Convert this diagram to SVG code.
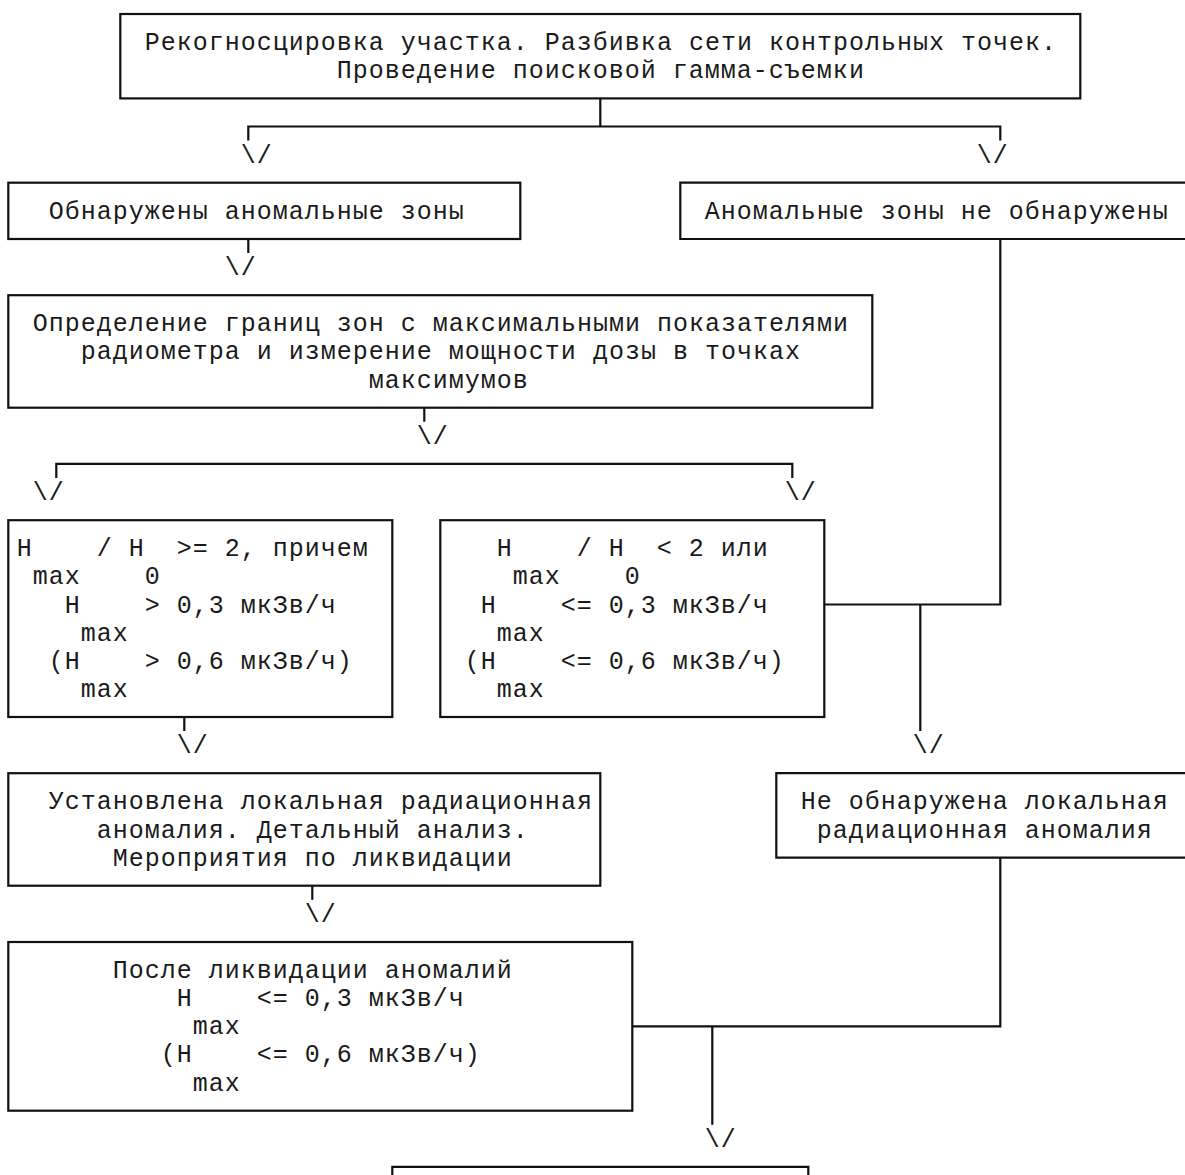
<svg xmlns="http://www.w3.org/2000/svg" width="1185" height="1175" viewBox="0 0 1185 1175">
<style>
  .bg{fill:#fff}
  .box{fill:none;stroke:#111;stroke-width:2.2}
  .ln{fill:none;stroke:#111;stroke-width:2.2}
  text{font-family:"Liberation Mono","DejaVu Sans Mono",monospace;font-size:25px;letter-spacing:1px;fill:#1a1a1a}
</style>
<rect class="bg" x="0" y="0" width="1185" height="1175"/>

<g id="connectors">
  <path class="ln" d="M600.3 98.4V126.5M248.3 140.5V126.5H1000.3V140.5"/>
  <path class="ln" d="M248.3 239V253"/>
  <path class="ln" d="M1000.3 239V604.5H824.3M920.3 604.5V731"/>
  <path class="ln" d="M424.3 407.7V421.7M56.3 478V463.9H792.3V478"/>
  <path class="ln" d="M184.3 717V731"/>
  <path class="ln" d="M312.3 885.7V899.8"/>
  <path class="ln" d="M1000.3 857.6V1026.3H632.3M712.3 1026.3V1124.7"/>
  <text x="240.8" y="162.6">\/</text>
  <text x="976.8" y="162.6">\/</text>
  <text x="224.8" y="275.1">\/</text>
  <text x="416.8" y="443.8">\/</text>
  <text x="32.8" y="500">\/</text>
  <text x="784.8" y="500">\/</text>
  <text x="176.8" y="753.1">\/</text>
  <text x="912.8" y="753.1">\/</text>
  <text x="304.8" y="921.8">\/</text>
  <text x="704.8" y="1146.8">\/</text>
</g>

<g id="n-start">
  <rect class="box" x="120.3" y="14" width="960" height="84.4"/>
  <text x="144.8" y="50.1">Рекогносцировка участка. Разбивка сети контрольных точек.</text>
  <text x="336.8" y="78.2">Проведение поисковой гамма-съемки</text>
</g>

<g id="n-found">
  <rect class="box" x="8.3" y="182.7" width="512" height="56.3"/>
  <text x="48.8" y="218.8">Обнаружены аномальные зоны</text>
</g>

<g id="n-notfound">
  <path class="box" d="M1190 182.7H680.3V239H1190"/>
  <text x="704.8" y="218.8">Аномальные зоны не обнаружены</text>
</g>

<g id="n-bounds">
  <rect class="box" x="8.3" y="295.2" width="864" height="112.5"/>
  <text x="32.8" y="331.3">Определение границ зон с максимальными показателями</text>
  <text x="80.8" y="359.4">радиометра и измерение мощности дозы в точках</text>
  <text x="368.8" y="387.6">максимумов</text>
</g>

<g id="n-cond-high">
  <rect class="box" x="8.3" y="520.2" width="384" height="196.8"/>
  <text x="16.8" y="556.3" xml:space="preserve">H    / H  &gt;= 2, причем</text>
  <text x="32.8" y="584.4" xml:space="preserve">max    0</text>
  <text x="64.8" y="612.5" xml:space="preserve">H    &gt; 0,3 мкЗв/ч</text>
  <text x="80.8" y="640.6">max</text>
  <text x="48.8" y="668.8" xml:space="preserve">(H    &gt; 0,6 мкЗв/ч)</text>
  <text x="80.8" y="696.9">max</text>
</g>

<g id="n-cond-low">
  <rect class="box" x="440.3" y="520.2" width="384" height="196.8"/>
  <text x="496.8" y="556.3" xml:space="preserve">H    / H  &lt; 2 или</text>
  <text x="512.8" y="584.4" xml:space="preserve">max    0</text>
  <text x="480.8" y="612.5" xml:space="preserve">H    &lt;= 0,3 мкЗв/ч</text>
  <text x="496.8" y="640.6">max</text>
  <text x="464.8" y="668.8" xml:space="preserve">(H    &lt;= 0,6 мкЗв/ч)</text>
  <text x="496.8" y="696.9">max</text>
</g>

<g id="n-anomaly">
  <rect class="box" x="8.3" y="773.2" width="592" height="112.5"/>
  <text x="48.8" y="809.4">Установлена локальная радиационная</text>
  <text x="96.8" y="837.5">аномалия. Детальный анализ.</text>
  <text x="112.8" y="865.6">Мероприятия по ликвидации</text>
</g>

<g id="n-no-anomaly">
  <path class="box" d="M1190 773.2H776.3V857.6H1190"/>
  <text x="800.8" y="809.4">Не обнаружена локальная</text>
  <text x="816.8" y="837.5">радиационная аномалия</text>
</g>

<g id="n-after">
  <rect class="box" x="8.3" y="942" width="624" height="168.7"/>
  <text x="112.8" y="978.1">После ликвидации аномалий</text>
  <text x="176.8" y="1006.2" xml:space="preserve">H    &lt;= 0,3 мкЗв/ч</text>
  <text x="192.8" y="1034.3">max</text>
  <text x="160.8" y="1062.4" xml:space="preserve">(H    &lt;= 0,6 мкЗв/ч)</text>
  <text x="192.8" y="1090.6">max</text>
</g>

<g id="n-final">
  <path class="box" d="M392.3 1180V1166.9H808.3V1180"/>
</g>
</svg>
